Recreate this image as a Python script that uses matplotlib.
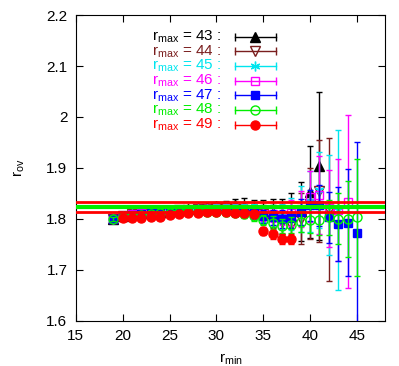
import numpy as np
import matplotlib
matplotlib.use("Agg")
import matplotlib.pyplot as plt
from matplotlib.ticker import FormatStrFormatter

plt.rcParams['font.family'] = ['Liberation Sans', 'DejaVu Sans']
plt.rcParams['mathtext.default'] = 'regular'

# r_max values and their series (r_min starts at 19, red at 20)
rmax = [43, 44, 45, 46, 47, 48, 49]
colors = ['#000000', '#7a1e1e', '#00e5ee', '#ff00ff', '#0000ff', '#00ee00', '#ff0000']

x_start = [19, 19, 19, 19, 19, 19, 20]

y43 = [1.800, 1.806, 1.809, 1.811, 1.813, 1.814, 1.816, 1.818, 1.820, 1.821, 1.823, 1.825,
       1.826, 1.827, 1.826, 1.820, 1.815, 1.812, 1.805, 1.805, 1.815, 1.853, 1.904]
e43 = [.003, .003, .003, .003, .004, .004, .004, .005, .005, .006, .007, .008,
       .010, .012, .015, .018, .022, .028, .035, .045, .058, .090, .145]

y44 = [1.800, 1.806, 1.809, 1.811, 1.813, 1.814, 1.815, 1.817, 1.818, 1.819, 1.820, 1.821,
       1.821, 1.820, 1.818, 1.815, 1.810, 1.805, 1.795, 1.788, 1.800, 1.830, 1.855, 1.818]
e44 = [.003, .003, .003, .003, .004, .004, .004, .005, .005, .006, .007, .008,
       .009, .010, .012, .015, .018, .022, .028, .035, .050, .070, .100, .140]

y45 = [1.800, 1.806, 1.809, 1.811, 1.813, 1.814, 1.815, 1.817, 1.818, 1.819, 1.820, 1.821,
       1.821, 1.820, 1.818, 1.815, 1.810, 1.808, 1.805, 1.810, 1.820, 1.835, 1.857, 1.827, 1.818]
e45 = [.003, .003, .003, .003, .004, .004, .004, .005, .005, .006, .007, .008,
       .009, .010, .012, .014, .016, .020, .025, .032, .045, .060, .075, .098, .157]

y46 = [1.800, 1.806, 1.809, 1.811, 1.813, 1.814, 1.815, 1.817, 1.818, 1.819, 1.820, 1.820,
       1.820, 1.819, 1.817, 1.814, 1.810, 1.810, 1.808, 1.812, 1.820, 1.844, 1.847, 1.821, 1.818, 1.834]
e46 = [.003, .003, .003, .003, .004, .004, .004, .005, .005, .006, .007, .007,
       .008, .009, .010, .012, .014, .016, .020, .025, .035, .050, .077, .075, .100, .170]

y47 = [1.800, 1.805, 1.808, 1.810, 1.812, 1.813, 1.814, 1.816, 1.817, 1.818, 1.818, 1.818,
       1.818, 1.817, 1.815, 1.812, 1.805, 1.803, 1.800, 1.802, 1.814, 1.827, 1.827, 1.803, 1.790, 1.793, 1.772]
e47 = [.003, .003, .003, .003, .004, .004, .004, .005, .005, .006, .006, .007,
       .008, .009, .010, .011, .012, .014, .017, .020, .025, .030, .040, .050, .073, .105, .178]

y48 = [1.800, 1.804, 1.806, 1.808, 1.810, 1.811, 1.812, 1.813, 1.813, 1.814, 1.814, 1.813,
       1.813, 1.812, 1.810, 1.806, 1.798, 1.793, 1.786, 1.788, 1.795, 1.798, 1.798, 1.803, 1.800, 1.800, 1.803]
e48 = [.003, .003, .003, .003, .004, .004, .004, .005, .005, .005, .006, .006,
       .007, .007, .008, .009, .010, .012, .014, .016, .020, .025, .030, .035, .050, .075, .114]

y49 = [1.801, 1.801, 1.802, 1.803, 1.803, 1.808, 1.810, 1.811, 1.812, 1.813, 1.813, 1.813,
       1.812, 1.811, 1.810, 1.776, 1.770, 1.760, 1.760]
e49 = [.005, .005, .005, .005, .005, .005, .005, .005, .006, .006, .006, .006,
       .006, .007, .007, .008, .009, .010, .010]

series_y = [y43, y44, y45, y46, y47, y48, y49]
series_e = [e43, e44, e45, e46, e47, e48, e49]

# fitted plateau values
red_band = [1.813, 1.833]
green_line = 1.823

markers = ['^', 'v', (6, 2, 0), 's', 's', 'o', 'o']
filled = [True, False, True, False, True, False, True]
msize = [6.5, 6.5, 7, 6, 6, 6.5, 6.5]

fig = plt.figure(figsize=(3.99, 3.66), dpi=100)
ax = fig.add_axes([0.19, 0.123, 0.775, 0.836])

for i in range(len(rmax)):
    y = series_y[i]
    x = np.arange(x_start[i], x_start[i] + len(y))
    c = colors[i]
    ax.errorbar(x, y, yerr=series_e[i], fmt='none', ecolor=c, elinewidth=1.0,
                capsize=2.5, capthick=1.0, zorder=2 + i)
    ax.plot(x, y, linestyle='none', marker=markers[i], markersize=msize[i],
            markerfacecolor=c if filled[i] else 'none', markeredgecolor=c,
            markeredgewidth=1.0, zorder=2 + i)

for v in red_band:
    ax.axhline(v, color='#ff0000', linewidth=2.0, zorder=20)
ax.axhline(green_line, color='#00ee00', linewidth=3.0, zorder=20)

# gnuplot-like key
tx = 0.4715
x0, x1, xm = 0.5146, 0.646, 0.581
for i in range(len(rmax)):
    yy = 0.929 - i * 0.048
    c = colors[i]
    ax.text(tx, yy, 'r$_{max}$ = %d :' % rmax[i], color=c, fontsize=11,
            ha='right', va='center', transform=ax.transAxes)
    ax.plot([x0, x1], [yy, yy], color=c, linewidth=1.0, transform=ax.transAxes,
            marker='|', markersize=6, clip_on=False)
    ax.plot([xm], [yy], color=c, linestyle='none', marker=markers[i], markersize=msize[i],
            markerfacecolor=c if filled[i] else 'none', markeredgecolor=c,
            transform=ax.transAxes, clip_on=False)

ax.set_xlim(15, 48)
ax.set_ylim(1.6, 2.2)
ax.set_xticks(np.arange(15, 46, 5))
ax.set_yticks(np.arange(1.6, 2.21, 0.1))
ax.yaxis.set_major_formatter(FormatStrFormatter('%g'))
ax.tick_params(direction='in', top=True, right=True, length=5, labelsize=11, pad=6)
ax.set_xlabel('r$_{min}$', fontsize=11, labelpad=6)
ax.set_ylabel('r$_{ov}$', fontsize=11, labelpad=14)

fig.savefig('out.png', dpi=100)
